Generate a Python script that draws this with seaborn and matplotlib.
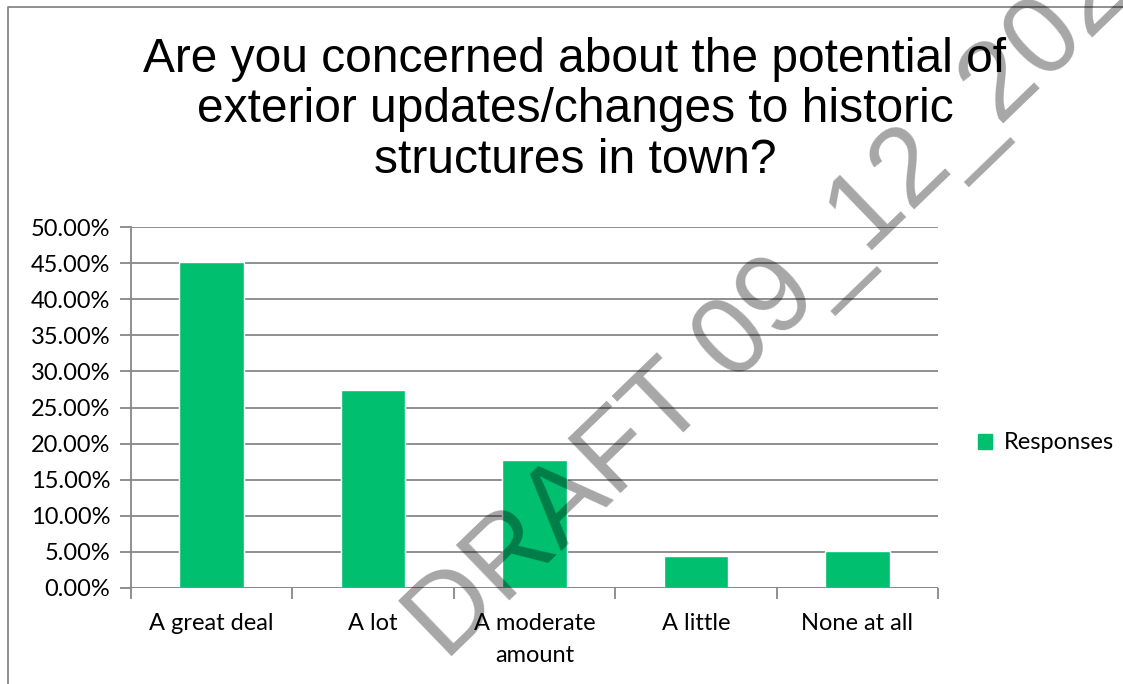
import pandas as pd
import numpy as np
import seaborn as sns
import matplotlib.pyplot as plt
from matplotlib.lines import Line2D
from matplotlib.patches import Patch
from matplotlib.ticker import FuncFormatter, FixedLocator

# survey answers and share of responses
categories = ['A great deal', 'A lot', 'A moderate\namount', 'A little', 'None at all']
responses = [0.4516, 0.2742, 0.1774, 0.0444, 0.0517]
y_ticks = [i * 0.05 for i in range(11)]

title = ('Are you concerned about the potential of\n'
         'exterior updates/changes to historic\n'
         'structures in town?')
watermark = 'DRAFT 09_12_2023'

BAR = '#00BF6F'
GRID = '#878787'

sns.set_style('white')
plt.rcParams['font.family'] = ['Lato', 'DejaVu Sans']
plt.rcParams['text.color'] = 'black'

df = pd.DataFrame({'answer': categories, 'share': responses})

fig = plt.figure(figsize=(11.23, 6.84), dpi=100)
ax = fig.add_axes([131 / 1123, 1 - 588 / 684, (938 - 131) / 1123, (588 - 227) / 684])

sns.barplot(data=df, x='answer', y='share', color=BAR, width=0.4,
            saturation=1, ax=ax, zorder=3)

ax.set_xlim(-0.5, len(categories) - 0.5)
ax.set_ylim(0, 0.5)
ax.set_yticks(y_ticks)
ax.yaxis.set_major_formatter(FuncFormatter(lambda v, p: f'{v * 100:.2f}%'))
ax.set_xticks(range(len(categories)), categories, linespacing=1.65)
ax.grid(axis='y', color=GRID, linewidth=1.3, zorder=0)
ax.set_xlabel('')
ax.set_ylabel('')

for s in ['top', 'right', 'bottom']:
    ax.spines[s].set_visible(False)
ax.spines['left'].set_color(GRID)
ax.spines['left'].set_linewidth(1.3)
ax.axhline(0, color=GRID, linewidth=1.3, zorder=4)

ax.tick_params(axis='y', length=8, width=1.3, color=GRID, labelsize=17,
               labelcolor='black', left=True, pad=7)
ax.tick_params(axis='x', which='major', length=0, labelsize=17,
               labelcolor='black', pad=18)
ax.xaxis.set_minor_locator(FixedLocator(np.arange(-0.5, len(categories), 1.0)))
ax.tick_params(axis='x', which='minor', length=8, width=1.3, color=GRID, bottom=True)

fig.text(575 / 1123, 1 - 110 / 684, title, ha='center', va='center',
         fontsize=34.5, family='Liberation Sans', color='black', linespacing=1.15)

fig.legend(handles=[Patch(color=BAR, label='Responses')],
           loc='center left', bbox_to_anchor=(957 / 1123, 1 - 443 / 684),
           frameon=False, fontsize=17, handlelength=0.6, handleheight=0.6,
           handletextpad=0.5)

# chart frame (top and left edges only are visible)
fig.add_artist(Line2D([8 / 1123, 8 / 1123, 1], [0, 1 - 7 / 684, 1 - 7 / 684],
                      transform=fig.transFigure, color=GRID, linewidth=1.3))

# draft stamp across the chart
fig.text(446 / 1123, 1 - 662 / 684, watermark, rotation=44, rotation_mode='anchor',
         ha='left', va='baseline', fontsize=80, family='Liberation Sans',
         color='black', alpha=0.35, zorder=10)

fig.savefig('out.png', dpi=100)
